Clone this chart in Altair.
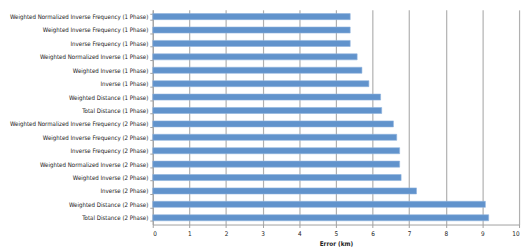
import altair as alt
import pandas as pd

methods = [
    "Weighted Normalized Inverse Frequency (1 Phase)",
    "Weighted Inverse Frequency (1 Phase)",
    "Inverse Frequency (1 Phase)",
    "Weighted Normalized Inverse (1 Phase)",
    "Weighted Inverse (1 Phase)",
    "Inverse (1 Phase)",
    "Weighted Distance (1 Phase)",
    "Total Distance (1 Phase)",
    "Weighted Normalized Inverse Frequency (2 Phase)",
    "Weighted Inverse Frequency (2 Phase)",
    "Inverse Frequency (2 Phase)",
    "Weighted Normalized Inverse (2 Phase)",
    "Weighted Inverse (2 Phase)",
    "Inverse (2 Phase)",
    "Weighted Distance (2 Phase)",
    "Total Distance (2 Phase)",
]
errors = [5.39, 5.39, 5.39, 5.58, 5.71, 5.90, 6.22, 6.25,
          6.57, 6.66, 6.74, 6.74, 6.78, 7.20, 9.08, 9.17]
x_ticks = [0, 1, 2, 3, 4, 5, 6, 7, 8, 9, 10]

df = pd.DataFrame({"method": methods, "error": errors})

FONT = "DejaVu Sans Condensed"

chart = alt.Chart(df).mark_bar(
    color="#6193cc", stroke="#8fb3dd", strokeWidth=0.6
).encode(
    x=alt.X("error:Q", title="Error (km)",
            scale=alt.Scale(domain=[0, 10], nice=False),
            axis=alt.Axis(values=x_ticks, labelOverlap=False,
                          grid=True, gridColor="#b0b0b0", gridWidth=1.2,
                          domainColor="#a0a0a0", tickColor="#a0a0a0", tickSize=3,
                          labelFontSize=6.5, labelFont=FONT, labelColor="#222",
                          labelPadding=3,
                          titleFontSize=6.5, titleFont=FONT, titleFontWeight="bold",
                          titleColor="#222", titlePadding=4)),
    y=alt.Y("method:N", title=None, sort=methods,
            scale=alt.Scale(paddingInner=0.55, paddingOuter=0.28),
            axis=alt.Axis(tickBand="extent", domainColor="#a0a0a0",
                          tickColor="#a0a0a0", tickSize=3, labelLimit=300,
                          labelOverlap=False,
                          labelFontSize=6.2, labelFont=FONT, labelColor="#222",
                          labelPadding=2, grid=False)),
).properties(
    width=372, height=218,
    autosize=alt.AutoSizeParams(type="none"),
    padding={"left": 147, "top": 0, "right": 4, "bottom": 25},
).configure_view(stroke=None)

chart.save("out.html", embed_options={"renderer": "svg", "actions": False})
